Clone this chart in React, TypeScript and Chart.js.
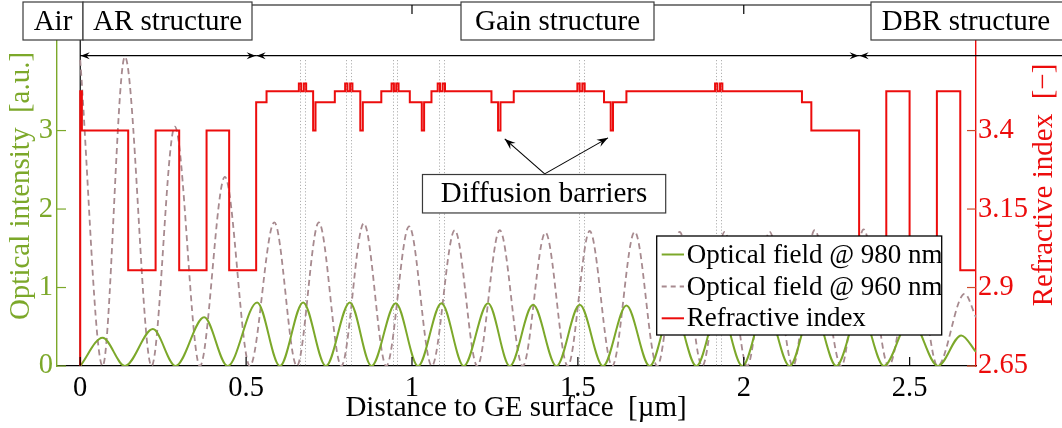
import React, { useEffect, useRef } from 'react';
import { Chart, registerables } from 'chart.js';

Chart.register(...registerables);

const SERIF = '"Liberation Serif", "DejaVu Serif", serif';
const GREEN = '#7ca82a';
const RED = '#ec0c0c';
const MAUVE = '#a78a8f';
const TICK_RED = '#cf4a2a';

// ---- data (x in µm) ----
const field980X = [0, 0.0675, 0.1347, 0.219, 0.2874, 0.3736, 0.4441, 0.5333, 0.6017, 0.6719, 0.7403, 0.8126, 0.878, 0.9512, 1.0184, 1.0889, 1.1561, 1.2293, 1.2947, 1.3649, 1.4354, 1.5056, 1.5758, 1.6463, 1.7165, 1.7858, 1.8572, 1.9265, 1.9958, 2.066, 2.1383, 2.2076, 2.279, 2.3507, 2.4224, 2.5029, 2.5851, 2.6556, 2.7];
const field980Y = [0, 0.36, 0, 0.47, 0, 0.62, 0, 0.81, 0, 0.81, 0, 0.81, 0, 0.8, 0, 0.8, 0, 0.8, 0, 0.78, 0, 0.78, 0, 0.77, 0, 0.77, 0, 0.76, 0, 0.76, 0, 0.75, 0, 0.72, 0, 0.6, 0, 0.39, 0.18];

const field960X = [0, 0.0675, 0.1347, 0.2151, 0.2853, 0.3607, 0.436, 0.5113, 0.5851, 0.6529, 0.7192, 0.787, 0.8548, 0.9226, 0.9913, 1.0597, 1.129, 1.1968, 1.2645, 1.3338, 1.4023, 1.4694, 1.5357, 1.6035, 1.6713, 1.7391, 1.8069, 1.8747, 1.9425, 2.0102, 2.078, 2.1482, 2.2136, 2.2941, 2.3612, 2.4366, 2.5149, 2.5842, 2.6656, 2.7];
const field960Y = [3.9, 0, 3.94, 0, 3.05, 0, 2.41, 0, 1.83, 0, 1.83, 0, 1.82, 0, 1.78, 0, 1.73, 0, 1.73, 0, 1.7, 0, 1.72, 0, 1.71, 0, 1.71, 0, 1.71, 0, 1.71, 0, 1.73, 0, 1.74, 0, 1.5, 0, 0.92, 0.62];

// layer start positions and their refractive index
const indexX = [-0.07, 0, 0.005, 0.1446, 0.2272, 0.2983, 0.3808, 0.4489, 0.5303, 0.5616,
  0.659, 0.666, 0.674, 0.681, 0.702, 0.7092, 0.7674,
  0.7985, 0.8055, 0.8135, 0.8205, 0.8442, 0.8518, 0.9075,
  0.9385, 0.9455, 0.9525, 0.9595, 0.9934, 1.0295, 1.0365, 1.0587,
  1.0775, 1.0845, 1.0925, 1.0995, 1.2395, 1.2594, 1.2667, 1.3067,
  1.4985, 1.5055, 1.5135, 1.5205, 1.5788, 1.599, 1.6059, 1.6463,
  1.9135, 1.9205, 1.9285, 1.9355, 2.1754, 2.2037, 2.3477,
  2.4296, 2.4998, 2.5821, 2.6526, 2.75];
const indexN = [1.0, 3.525, 3.4, 2.955, 3.4, 2.955, 3.4, 2.955, 3.49, 3.525,
  3.55, 3.525, 3.55, 3.525, 3.4, 3.49, 3.525,
  3.55, 3.525, 3.55, 3.525, 3.4, 3.49, 3.525,
  3.55, 3.525, 3.55, 3.525, 3.49, 3.4, 3.49, 3.525,
  3.55, 3.525, 3.55, 3.525, 3.49, 3.4, 3.49, 3.525,
  3.55, 3.525, 3.55, 3.525, 3.49, 3.4, 3.49, 3.525,
  3.55, 3.525, 3.55, 3.525, 3.49, 3.4, 2.955,
  3.525, 2.955, 3.525, 2.955, 2.955];

const qwCenters = [0.6625, 0.6775, 0.802, 0.817, 0.942, 0.956, 1.081, 1.096, 1.502, 1.517, 1.917, 1.932];
const regionBounds = [0, 0.5303, 2.3477];

const xTicks = [0, 0.5, 1, 1.5, 2, 2.5];
const yTicks = [0, 1, 2, 3];
const y2Ticks = [2.65, 2.9, 3.15, 3.4];

const seriesLabels = ['Optical field @ 980 nm', 'Optical field @ 960 nm', 'Refractive index'];
const regionLabels = ['Air', 'AR structure', 'Gain structure', 'DBR structure'];
const noteText = 'Diffusion barriers';
const xTitle = 'Distance to GE surface  [µm]';
const yTitle = 'Optical intensity  [a.u.]';
const y2Title = 'Refractive index  [−]';

// annotation geometry (x in µm, y in left-axis units)
const noteBox = { x0: 1.0316, x1: 1.7647, y0: 1.95, y1: 2.44 };
const noteApex = [1.4, 2.448];
const noteTips = [[1.2796, 2.894], [1.5908, 2.907]];

function seg(ctx: CanvasRenderingContext2D, x0: number, y0: number, x1: number, y1: number) {
  ctx.beginPath();
  ctx.moveTo(x0, y0);
  ctx.lineTo(x1, y1);
  ctx.stroke();
}

function head(ctx: CanvasRenderingContext2D, tx: number, ty: number, fx: number, fy: number, len: number, half: number) {
  const ang = Math.atan2(ty - fy, tx - fx);
  const c = Math.cos(ang), s = Math.sin(ang);
  ctx.beginPath();
  ctx.moveTo(tx, ty);
  ctx.lineTo(tx - len * c + half * s, ty - len * s - half * c);
  ctx.lineTo(tx - len * 0.65 * c, ty - len * 0.65 * s);
  ctx.lineTo(tx - len * c - half * s, ty - len * s + half * c);
  ctx.closePath();
  ctx.fill();
}

function box(ctx: CanvasRenderingContext2D, x0: number, y0: number, x1: number, y1: number) {
  ctx.fillStyle = '#fff';
  ctx.fillRect(x0, y0, x1 - x0, y1 - y0);
  ctx.strokeStyle = '#3a3a3a';
  ctx.lineWidth = 1.2;
  ctx.strokeRect(x0, y0, x1 - x0, y1 - y0);
}

const decor = {
  id: 'decor',
  beforeDatasetsDraw(chart: any) {
    const { ctx, chartArea: a, scales } = chart;
    const x = scales.x;
    ctx.save();
    ctx.strokeStyle = '#b0b0b0';
    ctx.lineWidth = 1;
    ctx.setLineDash([1.2, 2]);
    for (const c of qwCenters) {
      const p = Math.round(x.getPixelForValue(c)) + 0.5;
      seg(ctx, p, a.top + 55, p, a.bottom);
    }
    ctx.setLineDash([]);
    const p0 = x.getPixelForValue(regionBounds[0]);
    ctx.strokeStyle = '#000';
    ctx.lineWidth = 1.2;
    seg(ctx, p0, a.top + 35, p0, a.bottom);
    ctx.restore();
  },
  afterDraw(chart: any) {
    const { ctx, chartArea: a, scales } = chart;
    const x = scales.x, y = scales.y, y2 = scales.y2;
    ctx.save();
    ctx.lineWidth = 1.2;
    ctx.strokeStyle = '#000';
    seg(ctx, a.left, a.top, a.right, a.top);
    const TL = 9;
    for (const t of x.ticks) {
      const p = x.getPixelForValue(t.value);
      seg(ctx, p, a.bottom, p, a.bottom - TL);
      seg(ctx, p, a.top, p, a.top + TL);
    }
    ctx.strokeStyle = GREEN;
    for (const t of y.ticks) {
      const p = y.getPixelForValue(t.value);
      seg(ctx, a.left, p, a.left + TL, p);
    }
    ctx.strokeStyle = TICK_RED;
    for (const t of y2.ticks) {
      const p = y2.getPixelForValue(t.value);
      seg(ctx, a.right - TL, p, a.right, p);
    }

    // structure arrows
    const ay = a.top + 50.7;
    ctx.lineWidth = 1.2;
    const b = regionBounds.map((v) => x.getPixelForValue(v));
    const spans: [number, number, boolean][] = [[b[0], b[1], true], [b[1], b[2], true], [b[2], 1062, false]];
    for (const [s0, s1, rh] of spans) {
      ctx.strokeStyle = '#000';
      seg(ctx, s0, ay, s1, ay);
      ctx.fillStyle = '#000';
      head(ctx, s0 + 0.5, ay, s0 + 20, ay, 9, 3.5);
      if (rh) head(ctx, s1 - 0.5, ay, s1 - 20, ay, 9, 3.5);
    }

    // region label boxes
    const rb: [number, number][] = [[23, 83], [83, 252], [461, 654], [871, 1075]];
    ctx.font = `29px ${SERIF}`;
    ctx.textBaseline = 'middle';
    ctx.textAlign = 'center';
    regionLabels.forEach((lab, i) => {
      const [x0, x1] = rb[i];
      box(ctx, x0, 2, x1, 40);
      ctx.fillStyle = '#000';
      const cx = i === 3 ? 966 : (x0 + x1) / 2;
      ctx.fillText(lab, cx, 22);
    });

    // diffusion barrier note
    const nx0 = x.getPixelForValue(noteBox.x0), nx1 = x.getPixelForValue(noteBox.x1);
    const ny0 = y.getPixelForValue(noteBox.y1), ny1 = y.getPixelForValue(noteBox.y0);
    const apx = x.getPixelForValue(noteApex[0]), apy = y.getPixelForValue(noteApex[1]);
    ctx.strokeStyle = '#000';
    ctx.fillStyle = '#000';
    ctx.lineWidth = 1.1;
    for (const [tx, tyv] of noteTips) {
      const px = x.getPixelForValue(tx), py = y.getPixelForValue(tyv);
      seg(ctx, apx, apy, px, py);
      head(ctx, px, py, apx, apy, 11, 4);
    }
    box(ctx, nx0, ny0, nx1, ny1);
    ctx.fillStyle = '#000';
    ctx.font = `29px ${SERIF}`;
    ctx.fillText(noteText, (nx0 + nx1) / 2, (ny0 + ny1) / 2 + 1);

    // legend
    const L = { x0: 656.7, y0: 236, x1: 941.7, y1: 335 };
    ctx.fillStyle = '#fff';
    ctx.fillRect(L.x0, L.y0, L.x1 - L.x0, L.y1 - L.y0);
    ctx.strokeStyle = '#000';
    ctx.lineWidth = 1.3;
    ctx.strokeRect(L.x0, L.y0, L.x1 - L.x0, L.y1 - L.y0);
    const rows = [254.5, 286.5, 318.3];
    const styles = [
      { c: GREEN, d: [] as number[] },
      { c: MAUVE, d: [5, 4] },
      { c: RED, d: [] as number[] },
    ];
    ctx.font = `27px ${SERIF}`;
    ctx.textAlign = 'left';
    seriesLabels.forEach((lab, i) => {
      ctx.strokeStyle = styles[i].c;
      ctx.lineWidth = 2;
      ctx.setLineDash(styles[i].d);
      seg(ctx, 661.7, rows[i], 684, rows[i]);
      ctx.setLineDash([]);
      ctx.fillStyle = '#000';
      ctx.fillText(lab, 686.7, rows[i] + 1);
    });

    // axis titles
    ctx.font = `29px ${SERIF}`;
    ctx.textAlign = 'center';
    ctx.fillStyle = '#000';
    ctx.fillText(xTitle, 516, 408);
    ctx.save();
    ctx.translate(21, 186);
    ctx.rotate(-Math.PI / 2);
    ctx.fillStyle = GREEN;
    ctx.fillText(yTitle, 0, 0);
    ctx.restore();
    ctx.save();
    ctx.translate(1044, 185);
    ctx.rotate(-Math.PI / 2);
    ctx.fillStyle = RED;
    ctx.fillText(y2Title, 0, 0);
    ctx.restore();

    ctx.restore();
  },
};

const noPadV = (w: number) => (s: any) => { s.width = w; s.paddingTop = 0; s.paddingBottom = 0; };

export default function App() {
  const ref = useRef<HTMLCanvasElement>(null);
  useEffect(() => {
    const canvas = ref.current!;
    const tickFont = { family: SERIF, size: 28.5 };
    const chart = new Chart(canvas, {
      type: 'line',
      data: {
        datasets: [
          {
            label: seriesLabels[2],
            data: indexX.map((v, i) => ({ x: v, y: indexN[i] })),
            yAxisID: 'y2',
            borderColor: RED,
            borderWidth: 2,
            stepped: 'before',
            pointRadius: 0,
            fill: false,
          },
          {
            label: seriesLabels[0],
            data: field980X.map((v, i) => ({ x: v, y: field980Y[i] })),
            yAxisID: 'y',
            borderColor: GREEN,
            borderWidth: 2,
            cubicInterpolationMode: 'monotone',
            pointRadius: 0,
            fill: false,
          },
          {
            label: seriesLabels[1],
            data: field960X.map((v, i) => ({ x: v, y: field960Y[i] })),
            yAxisID: 'y',
            borderColor: MAUVE,
            borderWidth: 1.8,
            borderDash: [6, 4],
            cubicInterpolationMode: 'monotone',
            pointRadius: 0,
            fill: false,
          },
        ],
      },
      options: {
        animation: false,
        responsive: false,
        events: [],
        layout: { padding: { top: 5, left: 0, right: 0, bottom: 0 } },
        plugins: { legend: { display: false }, tooltip: { enabled: false } },
        scales: {
          x: {
            type: 'linear',
            min: -0.07,
            max: 2.7,
            afterBuildTicks: (s: any) => { s.ticks = xTicks.map((v) => ({ value: v })); },
            afterFit: (s: any) => { s.height = 62; s.paddingLeft = 0; s.paddingRight = 0; },
            ticks: { font: tickFont, color: '#000', padding: 5, maxRotation: 0, callback: (v: any) => String(v) },
            grid: { display: true, drawOnChartArea: false, drawTicks: false },
            border: { display: true, color: '#000', width: 1.2 },
          },
          y: {
            type: 'linear',
            position: 'left',
            min: 0,
            max: 4.6,
            afterBuildTicks: (s: any) => { s.ticks = yTicks.map((v) => ({ value: v })); },
            afterFit: noPadV(57),
            ticks: { font: tickFont, color: GREEN, padding: 4, callback: (v: any) => String(v) },
            grid: { display: true, drawOnChartArea: false, drawTicks: false },
            border: { display: true, color: GREEN, width: 1.4 },
          },
          y2: {
            type: 'linear',
            position: 'right',
            min: 2.65,
            max: 3.8,
            afterBuildTicks: (s: any) => { s.ticks = y2Ticks.map((v) => ({ value: v })); },
            afterFit: noPadV(86),
            ticks: { font: tickFont, color: RED, padding: 2, callback: (v: any) => String(v) },
            grid: { display: true, drawOnChartArea: false, drawTicks: false },
            border: { display: true, color: RED, width: 1.4 },
          },
        },
      },
      plugins: [decor],
    } as any);
    return () => chart.destroy();
  }, []);
  return (
    <div style={{ position: 'absolute', left: 0, top: 0, width: 1062, height: 428, background: '#fff' }}>
      <canvas ref={ref} width={1062} height={428} style={{ display: 'block' }} />
    </div>
  );
}
